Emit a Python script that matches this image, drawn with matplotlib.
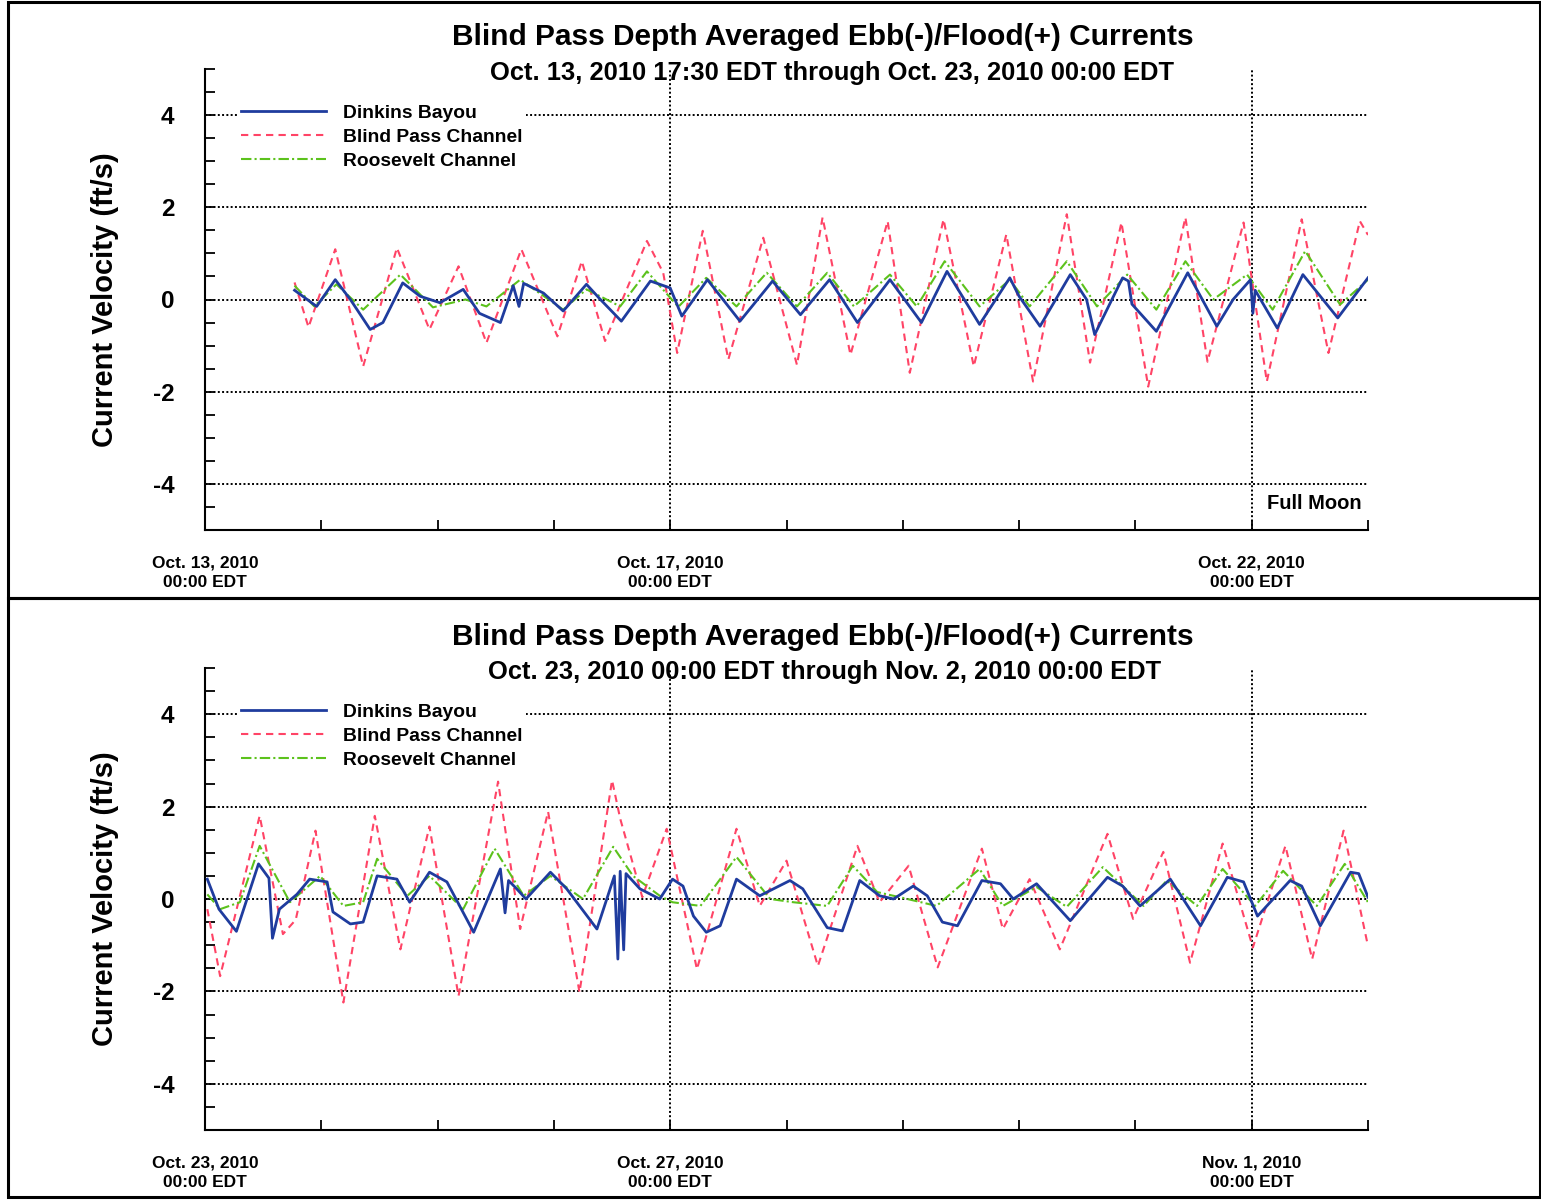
import numpy as np
import matplotlib.pyplot as plt

plt.rcParams['font.family'] = ['Liberation Sans', 'DejaVu Sans']
plt.rcParams['font.weight'] = 'bold'

# ---- data (days since panel start, ft/s) ----
# top panel: Oct 13 -> Oct 23, 2010
top_red_t = [0.77, 0.89, 1.12, 1.36, 1.65, 1.93, 2.18, 2.42, 2.72, 3.03, 3.24, 3.44, 3.80, 3.94,
             4.06, 4.28, 4.50, 4.80, 5.09, 5.31, 5.55, 5.87, 6.06, 6.35, 6.61, 6.89, 7.12, 7.41,
             7.61, 7.88, 8.11, 8.43, 8.62, 8.93, 9.13, 9.43, 9.66, 9.93, 10.0]
top_red_v = [0.37, -0.60, 1.09, -1.45, 1.12, -0.65, 0.72, -0.94, 1.09, -0.80, 0.83, -0.90, 1.27, 0.58,
             -1.16, 1.49, -1.30, 1.34, -1.42, 1.78, -1.20, 1.70, -1.59, 1.74, -1.45, 1.41, -1.78, 1.85,
             -1.37, 1.67, -1.89, 1.78, -1.35, 1.67, -1.78, 1.74, -1.16, 1.70, 1.40]

top_blue_t = [0.77, 0.96, 1.12, 1.25, 1.42, 1.53, 1.70, 1.85, 2.02, 2.22, 2.36, 2.54, 2.65, 2.70, 2.74,
              2.91, 3.08, 3.28, 3.40, 3.58, 3.83, 4.00, 4.10, 4.32, 4.60, 4.88, 5.12, 5.37, 5.61,
              5.89, 6.16, 6.38, 6.66, 6.92, 7.00, 7.18, 7.44, 7.58, 7.65, 7.89, 7.94, 7.97, 8.18,
              8.45, 8.70, 8.84, 8.99, 9.01, 9.03, 9.22, 9.44, 9.74, 10.0]
top_blue_v = [0.20, -0.15, 0.43, 0.00, -0.65, -0.50, 0.36, 0.07, -0.07, 0.22, -0.30, -0.50, 0.30, -0.15, 0.35,
              0.14, -0.25, 0.33, 0.00, -0.47, 0.40, 0.25, -0.36, 0.43, -0.47, 0.40, -0.33, 0.43, -0.50,
              0.43, -0.50, 0.61, -0.54, 0.47, 0.07, -0.58, 0.54, 0.00, -0.76, 0.47, 0.40, -0.10, -0.69,
              0.58, -0.58, 0.00, 0.43, -0.30, 0.20, -0.62, 0.54, -0.40, 0.47]

top_green_t = [0.77, 0.94, 1.13, 1.36, 1.68, 1.96, 2.24, 2.42, 2.71, 3.08, 3.28, 3.57, 3.80, 4.07,
               4.31, 4.57, 4.83, 5.09, 5.35, 5.58, 5.89, 6.12, 6.36, 6.66, 6.92, 7.09, 7.41, 7.67,
               7.93, 8.18, 8.43, 8.67, 8.96, 9.18, 9.46, 9.76, 10.0]
top_green_v = [0.30, -0.15, 0.33, -0.22, 0.54, -0.17, 0.00, -0.15, 0.43, -0.22, 0.22, -0.15, 0.61, -0.16,
               0.47, -0.15, 0.58, -0.15, 0.58, -0.15, 0.54, -0.15, 0.83, -0.15, 0.43, -0.15, 0.83, -0.15,
               0.54, -0.22, 0.83, 0.00, 0.54, -0.22, 1.05, -0.11, 0.43]

# bottom panel: Oct 23 -> Nov 2, 2010
bot_red_t = [0.02, 0.13, 0.47, 0.67, 0.78, 0.95, 1.19, 1.46, 1.68, 1.93, 2.18, 2.52, 2.71, 2.95,
             3.22, 3.50, 3.57, 3.76, 3.97, 4.23, 4.57, 4.77, 5.00, 5.27, 5.61, 5.80, 6.05, 6.30,
             6.68, 6.86, 7.09, 7.35, 7.76, 7.98, 8.24, 8.47, 8.75, 9.01, 9.29, 9.52, 9.79, 10.0]
bot_red_v = [-0.22, -1.67, 1.80, -0.76, -0.45, 1.48, -2.24, 1.80, -1.09, 1.57, -2.10, 2.54, -0.65, 1.89,
             -2.02, 2.57, 1.74, 0.04, 1.52, -1.52, 1.52, -0.15, 0.83, -1.45, 1.15, -0.07, 0.72, -1.48,
             1.09, -0.65, 0.43, -1.09, 1.41, -0.43, 1.02, -1.38, 1.20, -1.05, 1.15, -1.30, 1.48, -1.02]

bot_blue_t = [0.02, 0.12, 0.27, 0.46, 0.55, 0.58, 0.64, 0.79, 0.90, 1.05, 1.10, 1.25, 1.36, 1.48,
              1.65, 1.76, 1.93, 2.08, 2.31, 2.54, 2.58, 2.61, 2.68, 2.76, 2.97, 3.11, 3.37, 3.52,
              3.55, 3.57, 3.60, 3.62, 3.74, 3.91, 4.02, 4.11, 4.20, 4.31, 4.43, 4.57, 4.77, 5.03,
              5.14, 5.35, 5.48, 5.63, 5.80, 5.92, 6.09, 6.21, 6.34, 6.47, 6.68, 6.84, 6.95, 7.15,
              7.44, 7.76, 7.89, 8.04, 8.30, 8.56, 8.79, 8.93, 9.05, 9.33, 9.43, 9.59, 9.85, 9.92, 10.0]
bot_blue_v = [0.43, -0.22, -0.70, 0.76, 0.45, -0.85, -0.22, 0.10, 0.43, 0.37, -0.28, -0.54, -0.50, 0.50,
              0.43, -0.07, 0.58, 0.37, -0.72, 0.65, -0.30, 0.40, 0.22, 0.00, 0.58, 0.22, -0.65, 0.50,
              -1.30, 0.60, -1.10, 0.55, 0.22, 0.00, 0.43, 0.28, -0.37, -0.72, -0.58, 0.43, 0.07, 0.40,
              0.22, -0.62, -0.69, 0.40, 0.07, 0.00, 0.28, 0.07, -0.50, -0.58, 0.40, 0.33, 0.00, 0.33,
              -0.47, 0.47, 0.28, -0.15, 0.43, -0.58, 0.47, 0.37, -0.37, 0.40, 0.28, -0.58, 0.58, 0.55, 0.04]

bot_green_t = [0.02, 0.13, 0.30, 0.47, 0.73, 0.99, 1.19, 1.36, 1.48, 1.74, 1.93, 2.22, 2.49, 2.74,
               2.97, 3.25, 3.51, 3.68, 3.91, 4.02, 4.26, 4.57, 4.86, 5.06, 5.35, 5.57, 5.78, 6.04,
               6.29, 6.66, 6.86, 7.15, 7.41, 7.72, 8.07, 8.27, 8.53, 8.75, 9.03, 9.27, 9.56, 9.80, 10.0]
bot_green_v = [0.10, -0.22, -0.07, 1.15, -0.07, 0.50, -0.15, -0.07, 0.87, 0.07, 0.50, -0.22, 1.09, 0.07,
               0.50, 0.00, 1.13, 0.50, 0.07, -0.07, -0.15, 0.91, 0.00, -0.07, -0.15, 0.72, 0.15, 0.00,
               -0.15, 0.65, -0.15, 0.26, -0.17, 0.69, -0.15, 0.40, -0.15, 0.65, -0.15, 0.61, -0.15, 0.76, -0.07]

series_names = ['Dinkins Bayou', 'Blind Pass Channel', 'Roosevelt Channel']

title = 'Blind Pass Depth Averaged Ebb(-)/Flood(+) Currents'
top_subtitle = 'Oct. 13, 2010 17:30 EDT through Oct. 23, 2010 00:00 EDT'
bot_subtitle = 'Oct. 23, 2010 00:00 EDT through Nov. 2, 2010 00:00 EDT'

x_ticks = list(range(11))
top_xlabels = ['Oct. 13, 2010\n00:00 EDT', '', '', '', 'Oct. 17, 2010\n00:00 EDT', '', '', '', '',
               'Oct. 22, 2010\n00:00 EDT', '']
bot_xlabels = ['Oct. 23, 2010\n00:00 EDT', '', '', '', 'Oct. 27, 2010\n00:00 EDT', '', '', '', '',
               'Nov. 1, 2010\n00:00 EDT', '']
y_ticks = np.arange(-5, 5.01, 0.5)
y_labels = ['' if v % 2 else '%d' % v for v in y_ticks]
grid_y = [-4, -2, 0, 2, 4]
grid_x = [4, 9]

BLUE = '#1f3c9e'
RED = '#ff4466'
GREEN = '#5cc21c'

W, H = 1541, 1201
fig = plt.figure(figsize=(W / 100, H / 100), dpi=100)


def draw_panel(ax, red, blue, green, xlabels):
    for g in grid_y:
        ax.axhline(g, color='black', lw=1.4, ls=(0, (1, 1.2)), zorder=1)
    for g in grid_x:
        ax.axvline(g, color='black', lw=1.4, ls=(0, (1, 1.2)), zorder=1)
    l_red, = ax.plot(red[0], red[1], color=RED, lw=1.5, dashes=(3.5, 2.5), zorder=3)
    l_green, = ax.plot(green[0], green[1], color=GREEN, lw=1.5, dashes=(5, 1.5, 1, 1.5), zorder=4)
    l_blue, = ax.plot(blue[0], blue[1], color=BLUE, lw=2.0, zorder=5)

    ax.set_xlim(0, 10)
    ax.set_ylim(-5, 5)
    for s in ['top', 'right']:
        ax.spines[s].set_visible(False)
    for s in ['left', 'bottom']:
        ax.spines[s].set_linewidth(1.5)
    ax.set_xticks(x_ticks)
    ax.set_xticklabels(xlabels, fontsize=12.5, fontweight='bold', linespacing=1.45)
    ax.set_yticks(y_ticks)
    ax.set_yticklabels(y_labels, fontsize=17.5)
    ax.tick_params(axis='x', direction='in', length=7, width=1.3, pad=18)
    ax.tick_params(axis='y', direction='in', length=7, width=1.3, pad=22)
    ax.set_ylabel('Current Velocity (ft/s)', fontsize=21, fontweight='bold')
    ax.yaxis.set_label_coords(-0.074, 0.5)

    leg = ax.legend([l_blue, l_red, l_green], series_names, loc='upper left',
                    bbox_to_anchor=(0.019, 0.952), fontsize=13.9, frameon=True,
                    fancybox=False, edgecolor='none', facecolor='white', framealpha=1,
                    handlelength=4.4, handletextpad=0.9, labelspacing=0.33, borderpad=0.2)
    leg.set_zorder(6)
    return ax


ax1 = fig.add_axes([205 / W, 1 - 530 / H, 1163 / W, 461 / H])
draw_panel(ax1, (top_red_t, top_red_v), (top_blue_t, top_blue_v), (top_green_t, top_green_v), top_xlabels)
ax1.text(0.913, 0.058, 'Full Moon', transform=ax1.transAxes, fontsize=14.5, fontweight='bold',
         ha='left', va='center')

ax2 = fig.add_axes([205 / W, 1 - 1130 / H, 1163 / W, 462 / H])
draw_panel(ax2, (bot_red_t, bot_red_v), (bot_blue_t, bot_blue_v), (bot_green_t, bot_green_v), bot_xlabels)

fig.text(823 / W, 1 - 37 / H, title, fontsize=21.5, fontweight='bold', ha='center', va='center')
fig.text(832 / W, 1 - 73 / H, top_subtitle, fontsize=18.4, fontweight='bold', ha='center', va='center')
fig.text(823 / W, 1 - 637 / H, title, fontsize=21.5, fontweight='bold', ha='center', va='center')
fig.text(825 / W, 1 - 672 / H, bot_subtitle, fontsize=18.4, fontweight='bold', ha='center', va='center')

# panel frames
for y0, y1 in [(2, 598), (598, 1197)]:
    fig.add_artist(plt.Rectangle((8 / W, 1 - y1 / H), (1540 - 8) / W, (y1 - y0) / H,
                                 transform=fig.transFigure, fill=False, lw=2.2, edgecolor='black'))

fig.savefig('out.png', dpi=100)
